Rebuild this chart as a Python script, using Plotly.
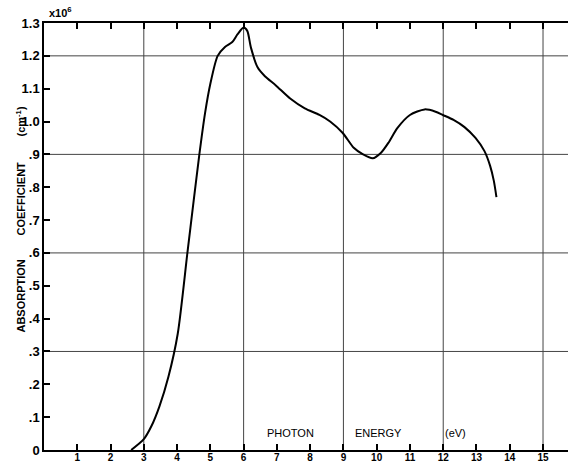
import plotly.graph_objects as go

# Photon energy (eV) and absorption coefficient (x10^6 cm^-1)
energy_ev = [2.62, 3.0, 3.23, 3.47, 3.74, 4.02, 4.31, 4.50, 4.67, 4.84, 5.0, 5.22, 5.44,
             5.66, 5.82, 6.0, 6.11, 6.22, 6.42, 6.64, 6.97, 7.40, 7.84, 8.28, 8.6,
             8.98, 9.31, 9.59, 9.88, 10.13, 10.35, 10.62, 11.0, 11.44, 11.77, 11.99,
             12.31, 12.64, 12.97, 13.24, 13.41, 13.52, 13.60]
absorption = [0.0, 0.033, 0.073, 0.133, 0.223, 0.354, 0.60, 0.76, 0.90, 1.025, 1.115, 1.20,
              1.227, 1.242, 1.266, 1.286, 1.276, 1.225, 1.165, 1.138, 1.11, 1.07, 1.04,
              1.02, 1.0, 0.965, 0.92, 0.90, 0.888, 0.905, 0.935, 0.98, 1.02, 1.037,
              1.03, 1.02, 1.005, 0.983, 0.95, 0.91, 0.865, 0.82, 0.77]

x_ticks = list(range(1, 16))
x_tick_labels = [str(v) for v in x_ticks]
y_ticks = [0, 0.1, 0.2, 0.3, 0.4, 0.5, 0.6, 0.7, 0.8, 0.9, 1.0, 1.1, 1.2, 1.3]
y_tick_labels = ["0", ".1", ".2", ".3", ".4", ".5", ".6", ".7", ".8", ".9",
                 "1.0", "1.1", "1.2", "1.3"]
x_grid = [3, 6, 9, 12, 15]
y_grid = [0.3, 0.6, 0.9, 1.2]

FONT = "Liberation Sans"
L, T, B = 43.5, 23, 14
W, H = 568, 464
PW, PH = W - L, H - T - B
BOTTOM = H - B

fig = go.Figure()
fig.add_trace(go.Scatter(x=energy_ev, y=absorption, mode="lines",
                         line=dict(color="black", width=2, shape="spline", smoothing=0.7),
                         showlegend=False, hoverinfo="skip"))

shapes = []
for gx in x_grid:
    shapes.append(dict(type="line", xref="x", yref="paper", x0=gx, x1=gx, y0=0, y1=1,
                       line=dict(color="#444", width=1), layer="below"))
for gy in y_grid:
    shapes.append(dict(type="line", xref="paper", yref="y", x0=0, x1=1, y0=gy, y1=gy,
                       line=dict(color="#444", width=1), layer="below"))

annotations = [
    dict(text="<b>ABSORPTION</b>", x=20, y=296),
    dict(text="<b>COEFFICIENT</b>", x=20, y=199),
    dict(text="<b>(cm<sup>-1</sup>)</b>", x=20, y=122),
]
ann = []
for a in annotations:
    ann.append(dict(text=a["text"], xref="paper", yref="paper",
                    x=(a["x"] - L) / PW, y=(BOTTOM - a["y"]) / PH,
                    textangle=-90, showarrow=False, xanchor="center", yanchor="middle",
                    font=dict(family=FONT, size=11, color="black")))
ann.append(dict(text="<b>x10<sup>6</sup></b>", xref="x", yref="paper",
                x=0.1, y=(BOTTOM - 12) / PH, xanchor="left", yanchor="middle",
                showarrow=False, font=dict(family=FONT, size=11, color="black")))
for txt, px in [("PHOTON", 290), ("ENERGY", 378), ("(eV)", 455)]:
    ann.append(dict(text=txt, xref="paper", yref="paper",
                    x=(px - L) / PW, y=17 / PH, xanchor="center",
                    yanchor="middle", showarrow=False,
                    font=dict(family=FONT, size=11, color="black")))

fig.update_layout(
    width=W, height=H,
    margin=dict(l=L, r=0, t=T, b=B, pad=0),
    paper_bgcolor="white", plot_bgcolor="white",
    shapes=shapes, annotations=ann,
    xaxis=dict(range=[0, PW / 33.3], tickvals=x_ticks, ticktext=x_tick_labels,
               ticks="inside", ticklen=6, tickwidth=1.5, tickcolor="black",
               showline=True, linecolor="black", linewidth=1.5, mirror="ticks",
               showgrid=False, zeroline=False, automargin=False, ticklabelstandoff=-3,
               tickfont=dict(family=FONT, size=10, color="black", weight="bold")),
    yaxis=dict(range=[0, 1.3], tickvals=y_ticks, ticktext=y_tick_labels,
               ticks="inside", ticklen=6, tickwidth=1.5, tickcolor="black",
               showline=True, linecolor="black", linewidth=1.5,
               showgrid=False, zeroline=False, automargin=False,
               tickfont=dict(family=FONT, size=13, color="black", weight="bold")),
)

fig.write_html("out.html", config={"displayModeBar": False},
               post_script="document.body.style.margin='0';document.body.style.overflow='hidden';")
